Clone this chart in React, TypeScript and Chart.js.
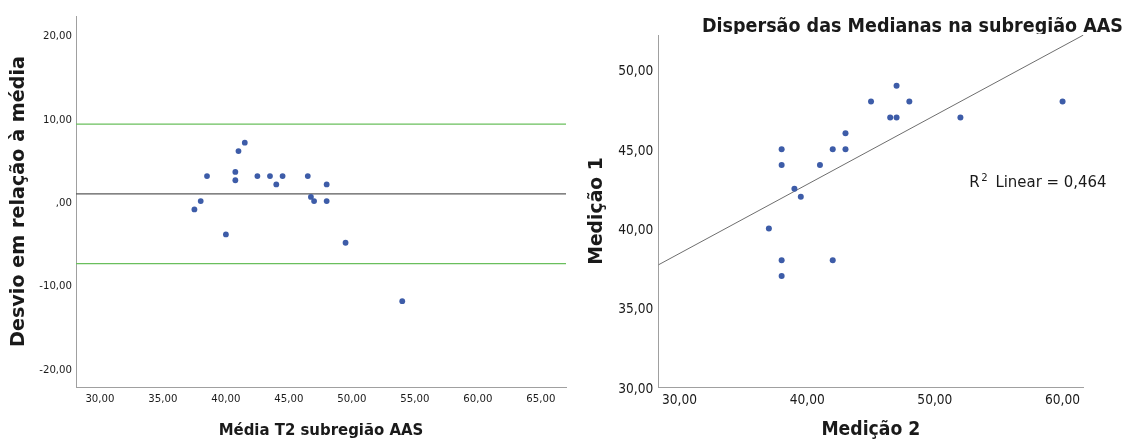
import React, { useEffect, useRef } from "react";
import { Chart, registerables } from "chart.js";

Chart.register(...registerables);

// ---------------- Left chart: Bland–Altman (Média vs Desvio) ----------------
const baMeans = [37.5, 38, 38.5, 40, 40.75, 40.75, 41, 41.5, 42.5, 43.5, 44, 44.5, 46.5, 46.75, 47, 48, 48, 49.5, 54];
const baDiffs = [-1, 0, 3, -4, 3.5, 2.5, 6, 7, 3, 3, 2, 3, 3, 0.5, 0, 2, 0, -5, -12];
const baMeanLine = 0.87;
const baUpperLimit = 9.24;
const baLowerLimit = -7.5;
const leftXRange = [28.1, 67.0];
const leftYRange = [-22.3, 22.2];
const leftXTicks = [30, 35, 40, 45, 50, 55, 60, 65];
const leftXTickLabels = ["30,00", "35,00", "40,00", "45,00", "50,00", "55,00", "60,00", "65,00"];
const leftYTicks = [-20, -10, 0, 10, 20];
const leftYTickLabels = ["-20,00", "-10,00", ",00", "10,00", "20,00"];
const leftXTitle = "Média T2 subregião AAS";
const leftYTitle = "Desvio em relação à média";

// ---------------- Right chart: scatter Medição 2 vs Medição 1 ----------------
const medicao2 = [37, 38, 38, 38, 38, 39, 39.5, 41, 42, 42, 43, 43, 45, 46.5, 47, 47, 48, 52, 60];
const medicao1 = [40, 37, 38, 44, 45, 42.5, 42, 44, 38, 45, 45, 46, 48, 47, 47, 49, 48, 47, 48];
const fitX = [28.34, 61.64];
const fitY = [37.7, 52.2];
const rSquaredValue = "0,464";
const rLabelAt = { x: 52.7, y: 42.6 };
const rightXRange = [28.34, 61.64];
const rightYRange = [30, 52.2];
const rightXTicks = [30, 40, 50, 60];
const rightXTickLabels = ["30,00", "40,00", "50,00", "60,00"];
const rightYTicks = [30, 35, 40, 45, 50];
const rightYTickLabels = ["30,00", "35,00", "40,00", "45,00", "50,00"];
const rightTitle = "Dispersão das Medianas na subregião AAS";
const rightXTitle = "Medição 2";
const rightYTitle = "Medição 1";

// ---------------- Styles ----------------
function hasFont(name: string): boolean {
  const c = document.createElement("canvas").getContext("2d") as CanvasRenderingContext2D;
  const probe = "mmmWWWiii30,00 Médiação";
  c.font = "100px monospace";
  const a = c.measureText(probe).width;
  c.font = `100px '${name}', monospace`;
  const b = c.measureText(probe).width;
  return Math.abs(a - b) > 0.5;
}
function pickFamily(cands: string[], fallback: string): string {
  for (const n of cands) if (hasFont(n)) return `'${n}', ${fallback}`;
  return fallback;
}
const COND = pickFamily(["DejaVu Sans Condensed", "Liberation Sans Narrow", "Roboto Condensed", "Roboto"], "'DejaVu Sans', sans-serif");
const WIDE = "'DejaVu Sans', sans-serif";
const POINT = "#3d5ca8";
const AXIS = "#a0a0a0";
const GREEN = "#6abf5c";
const TEXT = "#1a1a1a";

function fitSize(text: string, weight: string, family: string, target: number): number {
  const c = document.createElement("canvas").getContext("2d") as CanvasRenderingContext2D;
  c.font = `${weight} 100px ${family}`;
  const w = c.measureText(text).width || 1;
  return Math.round((1000 * target) / w) / 10;
}

function makeTicks(values: number[], labels: string[]) {
  return {
    afterBuildTicks: (s: any) => {
      s.ticks = values.map((v) => ({ value: v }));
    },
    callback: (_v: any, i: number) => labels[i],
  };
}

const noGrid = { display: false, drawTicks: false, tickLength: 0 };

function leftConfig(): any {
  const tickSize = fitSize("30,00", "normal", COND, 29);
  const yTitleSize = fitSize(leftYTitle, "bold", WIDE, 292);
  const xTitleSize = fitSize(leftXTitle, "bold", COND, 205);
  const xt = makeTicks(leftXTicks, leftXTickLabels);
  const yt = makeTicks(leftYTicks, leftYTickLabels);
  const hline = (y: number, color: string, width: number) => ({
    type: "scatter",
    data: [
      { x: leftXRange[0], y },
      { x: leftXRange[1], y },
    ],
    showLine: true,
    borderColor: color,
    borderWidth: width,
    pointRadius: 0,
    fill: false,
  });
  return {
    type: "scatter",
    data: {
      datasets: [
        {
          data: baMeans.map((m, i) => ({ x: m, y: baDiffs[i] })),
          pointRadius: 2.9,
          pointBackgroundColor: POINT,
          pointBorderWidth: 0,
          showLine: false,
        },
        hline(baMeanLine, "#5a5a5a", 1.3),
        hline(baUpperLimit, GREEN, 1.3),
        hline(baLowerLimit, GREEN, 1.3),
      ],
    },
    options: {
      responsive: false,
      maintainAspectRatio: false,
      devicePixelRatio: 1,
      animation: false,
      events: [],
      layout: { padding: { left: 0, top: 16, right: 4, bottom: 0 } },
      plugins: { legend: { display: false }, tooltip: { enabled: false }, title: { display: false } },
      scales: {
        x: {
          type: "linear",
          min: leftXRange[0],
          max: leftXRange[1],
          afterBuildTicks: xt.afterBuildTicks,
          afterFit: (s: any) => {
            s.height = 54;
          },
          grid: noGrid,
          border: { display: true, color: AXIS, width: 1 },
          ticks: {
            autoSkip: false,
            maxRotation: 0,
            minRotation: 0,
            padding: 5,
            color: TEXT,
            font: { family: COND, size: tickSize },
            callback: xt.callback,
          },
          title: {
            display: true,
            text: leftXTitle,
            color: TEXT,
            font: { family: COND, size: xTitleSize, weight: "bold", lineHeight: 1 },
            padding: { top: 0, bottom: 2.5 },
          },
        },
        y: {
          type: "linear",
          min: leftYRange[0],
          max: leftYRange[1],
          afterBuildTicks: yt.afterBuildTicks,
          afterFit: (s: any) => {
            s.width = 76;
          },
          grid: noGrid,
          border: { display: true, color: AXIS, width: 1 },
          ticks: {
            autoSkip: false,
            padding: 4,
            labelOffset: 2,
            color: TEXT,
            font: { family: COND, size: tickSize },
            callback: yt.callback,
          },
          title: {
            display: true,
            text: leftYTitle,
            color: TEXT,
            font: { family: WIDE, size: yTitleSize, weight: "bold", lineHeight: 1 },
            padding: { top: 9, bottom: 0 },
          },
        },
      },
    },
  };
}

function rightConfig(): any {
  const tickSize = fitSize("30,00", "normal", COND, 35);
  const yTitleSize = fitSize(rightYTitle, "bold", WIDE, 108);
  const xTitleSize = fitSize(rightXTitle, "bold", COND, 99);
  const titleSize = fitSize(rightTitle, "bold", COND, 420);
  const rSize = fitSize("R2 Linear = " + rSquaredValue, "normal", COND, 136);
  const xt = makeTicks(rightXTicks, rightXTickLabels);
  const yt = makeTicks(rightYTicks, rightYTickLabels);

  const titlePlugin = {
    id: "clippedTitle",
    afterDraw(chart: any) {
      const { ctx, chartArea, width } = chart;
      ctx.save();
      ctx.beginPath();
      ctx.rect(0, 0, width, chartArea.top - 1);
      ctx.clip();
      ctx.font = `bold ${titleSize}px ${COND}`;
      ctx.fillStyle = TEXT;
      ctx.textAlign = "right";
      ctx.textBaseline = "alphabetic";
      ctx.fillText(rightTitle, width - 3, 31.7);
      ctx.restore();
    },
  };

  const rLabelPlugin = {
    id: "rSquaredLabel",
    afterDatasetsDraw(chart: any) {
      const { ctx, scales } = chart;
      let x = scales.x.getPixelForValue(rLabelAt.x);
      const y = scales.y.getPixelForValue(rLabelAt.y);
      ctx.save();
      ctx.fillStyle = TEXT;
      ctx.textAlign = "left";
      ctx.textBaseline = "alphabetic";
      ctx.font = `normal ${rSize}px ${COND}`;
      ctx.fillText("R", x, y);
      x += ctx.measureText("R").width + 1.5;
      ctx.font = `normal ${rSize * 0.68}px ${COND}`;
      ctx.fillText("2", x, y - rSize * 0.4);
      x += ctx.measureText("2").width + 3;
      ctx.font = `normal ${rSize}px ${COND}`;
      ctx.fillText(" Linear = " + rSquaredValue, x, y);
      ctx.restore();
    },
  };

  return {
    type: "scatter",
    data: {
      datasets: [
        {
          data: medicao2.map((m, i) => ({ x: m, y: medicao1[i] })),
          pointRadius: 3,
          pointBackgroundColor: POINT,
          pointBorderWidth: 0,
          showLine: false,
        },
        {
          data: fitX.map((x, i) => ({ x, y: fitY[i] })),
          showLine: true,
          borderColor: "#6e6e6e",
          borderWidth: 1,
          pointRadius: 0,
          fill: false,
        },
      ],
    },
    plugins: [titlePlugin, rLabelPlugin],
    options: {
      responsive: false,
      maintainAspectRatio: false,
      devicePixelRatio: 1,
      animation: false,
      events: [],
      layout: { padding: { left: 0, top: 35, right: 42.5, bottom: 0 } },
      plugins: { legend: { display: false }, tooltip: { enabled: false }, title: { display: false } },
      scales: {
        x: {
          type: "linear",
          min: rightXRange[0],
          max: rightXRange[1],
          afterBuildTicks: xt.afterBuildTicks,
          afterFit: (s: any) => {
            s.height = 54;
          },
          grid: noGrid,
          border: { display: true, color: AXIS, width: 1 },
          ticks: {
            autoSkip: false,
            maxRotation: 0,
            minRotation: 0,
            padding: 5,
            color: TEXT,
            font: { family: COND, size: tickSize },
            callback: xt.callback,
          },
          title: {
            display: true,
            text: rightXTitle,
            color: TEXT,
            font: { family: COND, size: xTitleSize, weight: "bold", lineHeight: 1 },
            padding: { top: 0, bottom: 1 },
          },
        },
        y: {
          type: "linear",
          min: rightYRange[0],
          max: rightYRange[1],
          afterBuildTicks: yt.afterBuildTicks,
          afterFit: (s: any) => {
            s.width = 88.3;
          },
          grid: noGrid,
          border: { display: true, color: AXIS, width: 1 },
          ticks: {
            autoSkip: false,
            padding: 5,
            labelOffset: 2,
            color: TEXT,
            font: { family: COND, size: tickSize },
            callback: yt.callback,
          },
          title: {
            display: true,
            text: rightYTitle,
            color: TEXT,
            font: { family: WIDE, size: yTitleSize, weight: "bold", lineHeight: 1 },
            padding: { top: 18, bottom: 0 },
          },
        },
      },
    },
  };
}

function ChartCanvas(props: { build: () => any; width: number; height: number; left: number }) {
  const ref = useRef<HTMLCanvasElement | null>(null);
  useEffect(() => {
    if (!ref.current) return;
    const chart = new Chart(ref.current, props.build());
    return () => chart.destroy();
  }, []);
  return (
    <canvas
      ref={ref}
      width={props.width}
      height={props.height}
      style={{ position: "absolute", left: props.left, top: 0, width: props.width, height: props.height }}
    />
  );
}

export default function App() {
  return (
    <div style={{ position: "fixed", left: 0, top: 0, width: 1126, height: 441, background: "#ffffff", overflow: "hidden" }}>
      <ChartCanvas build={leftConfig} width={570} height={441} left={0} />
      <ChartCanvas build={rightConfig} width={556} height={441} left={570} />
    </div>
  );
}
